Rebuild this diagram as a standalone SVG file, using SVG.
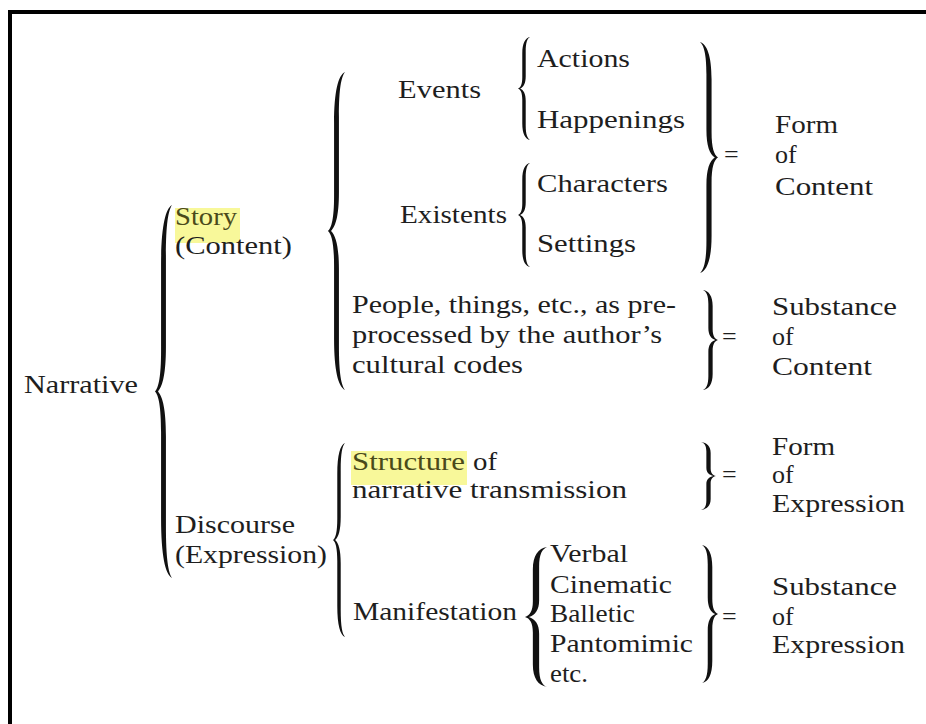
<svg xmlns="http://www.w3.org/2000/svg" xmlns:xlink="http://www.w3.org/1999/xlink" width="926" height="724" viewBox="0 0 926 724">
<style>
text{font-family:"Liberation Serif","DejaVu Serif",serif;font-size:26px;fill:#1e1e1e}
.hl{fill:#f8f89a}
.brace{fill:#111}
</style>
<defs>
<path id="lb" d="M14,0 C8.5,1 5,6 5,16 L5,39 C5,46 3,49 0,50 C3,51 5,54 5,61 L5,84 C5,94 8.5,99 14,100 C11,98.5 9,95 9,86 L9,62 C9,55 6.5,51.5 2.5,50 C6.5,48.5 9,45 9,38 L9,14 C9,5 11,1.5 14,0 Z"/>
</defs>
<rect width="926" height="724" fill="#fff"/>
<path d="M10,724 V12 H926" fill="none" stroke="#000" stroke-width="4"/>
<g id="connectors" class="brace">
<use xlink:href="#lb" transform="translate(155,205) scale(1.214,3.73)"/>
<use xlink:href="#lb" transform="translate(328,72) scale(1.214,3.18)"/>
<use xlink:href="#lb" transform="translate(518,37) scale(0.857,1.03)"/>
<use xlink:href="#lb" transform="translate(518,163) scale(0.857,1.04)"/>
<use xlink:href="#lb" transform="translate(718,42) scale(-1.286,2.31)"/>
<use xlink:href="#lb" transform="translate(718,290) scale(-1.07,1.0)"/>
<use xlink:href="#lb" transform="translate(333,443) scale(0.857,1.94)"/>
<use xlink:href="#lb" transform="translate(716,442) scale(-1.07,0.68)"/>
<use xlink:href="#lb" transform="translate(525,547) scale(1.57,1.4)"/>
<use xlink:href="#lb" transform="translate(718,545) scale(-1.14,1.38)"/>
</g>
<g id="narrative"><text x="24" y="393" textLength="114" lengthAdjust="spacingAndGlyphs">Narrative</text></g>
<g id="story">
<rect class="hl" x="175" y="208" width="65" height="35"/>
<text x="175" y="225" textLength="62" lengthAdjust="spacingAndGlyphs" style="fill:#4a4a1a">Story</text>
<text x="175" y="254" textLength="117" lengthAdjust="spacingAndGlyphs">(Content)</text>
</g>
<g id="discourse">
<text x="175" y="533" textLength="120" lengthAdjust="spacingAndGlyphs">Discourse</text>
<text x="175" y="563" textLength="152" lengthAdjust="spacingAndGlyphs">(Expression)</text>
</g>
<g id="events"><text x="398" y="98" textLength="83" lengthAdjust="spacingAndGlyphs">Events</text></g>
<g id="existents"><text x="400" y="223" textLength="107" lengthAdjust="spacingAndGlyphs">Existents</text></g>
<g id="actions"><text x="537" y="67" textLength="93" lengthAdjust="spacingAndGlyphs">Actions</text></g>
<g id="happenings"><text x="537" y="128" textLength="148" lengthAdjust="spacingAndGlyphs">Happenings</text></g>
<g id="characters"><text x="537" y="192" textLength="131" lengthAdjust="spacingAndGlyphs">Characters</text></g>
<g id="settings"><text x="537" y="252" textLength="99" lengthAdjust="spacingAndGlyphs">Settings</text></g>
<g id="people">
<text x="352" y="313" textLength="324" lengthAdjust="spacingAndGlyphs">People, things, etc., as pre-</text>
<text x="352" y="343" textLength="310" lengthAdjust="spacingAndGlyphs">processed by the author’s</text>
<text x="352" y="373" textLength="171" lengthAdjust="spacingAndGlyphs">cultural codes</text>
</g>
<g id="structure">
<rect class="hl" x="351" y="451" width="116" height="34"/>
<text x="352" y="470" textLength="113" lengthAdjust="spacingAndGlyphs" style="fill:#4a4a1a">Structure</text>
<text x="473" y="470" textLength="24" lengthAdjust="spacingAndGlyphs">of</text>
<text x="352" y="498" textLength="275" lengthAdjust="spacingAndGlyphs">narrative transmission</text>
</g>
<g id="manifestation"><text x="353" y="620" textLength="164" lengthAdjust="spacingAndGlyphs">Manifestation</text></g>
<g id="media">
<text x="550" y="562" textLength="78" lengthAdjust="spacingAndGlyphs">Verbal</text>
<text x="550" y="593" textLength="122" lengthAdjust="spacingAndGlyphs">Cinematic</text>
<text x="550" y="622" textLength="85" lengthAdjust="spacingAndGlyphs">Balletic</text>
<text x="550" y="652" textLength="143" lengthAdjust="spacingAndGlyphs">Pantomimic</text>
<text x="550" y="682" textLength="38" lengthAdjust="spacingAndGlyphs">etc.</text>
</g>
<g id="form-content">
<text x="724" y="163">=</text>
<text x="775" y="133" textLength="63" lengthAdjust="spacingAndGlyphs">Form</text>
<text x="775" y="163">of</text>
<text x="775" y="195" textLength="98" lengthAdjust="spacingAndGlyphs">Content</text>
</g>
<g id="substance-content">
<text x="722" y="345">=</text>
<text x="772" y="315" textLength="125" lengthAdjust="spacingAndGlyphs">Substance</text>
<text x="772" y="345">of</text>
<text x="772" y="375" textLength="100" lengthAdjust="spacingAndGlyphs">Content</text>
</g>
<g id="form-expression">
<text x="722" y="483">=</text>
<text x="772" y="455" textLength="63" lengthAdjust="spacingAndGlyphs">Form</text>
<text x="772" y="483">of</text>
<text x="772" y="512" textLength="133" lengthAdjust="spacingAndGlyphs">Expression</text>
</g>
<g id="substance-expression">
<text x="722" y="625">=</text>
<text x="772" y="595" textLength="125" lengthAdjust="spacingAndGlyphs">Substance</text>
<text x="772" y="625">of</text>
<text x="772" y="653" textLength="133" lengthAdjust="spacingAndGlyphs">Expression</text>
</g>
</svg>
